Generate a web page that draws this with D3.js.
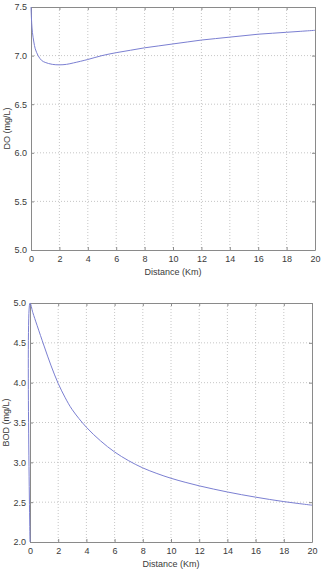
<!DOCTYPE html>
<html lang="en">
<head>
	<meta charset="UTF-8">
	<script src="https://cdn.jsdelivr.net/npm/d3@7"></script>
	<title></title>
	<style>
		body { margin: 0; background: #fff; }
		text { font-family: "Liberation Sans", Arial, sans-serif; fill: #3a3a3a; }
	</style>
</head>
<body>
  <script>
    // DO curve (mg/L) against distance (Km)
    var doDist = [0, 0.05, 0.1, 0.2, 0.3, 0.5, 0.75, 1, 1.5, 2, 2.5, 3, 4, 5, 6, 7, 8, 9, 10, 11, 12, 13, 14, 15, 16, 17, 18, 19, 20];
    var doVal = [7.5, 7.33, 7.24, 7.14, 7.07, 7.0, 6.95, 6.93, 6.91, 6.905, 6.91, 6.925, 6.96, 7.0, 7.03, 7.055, 7.08, 7.10, 7.12, 7.14, 7.16, 7.175, 7.19, 7.205, 7.22, 7.23, 7.24, 7.25, 7.26];

    // BOD curve (mg/L) against distance (Km)
    var bodDist = [0, 0, 0.2, 0.5, 1, 1.5, 2, 2.5, 3, 4, 5, 6, 7, 8, 9, 10, 11, 12, 13, 14, 15, 16, 17, 18, 19, 20];
    var bodVal = [2.0, 5.0, 4.88, 4.72, 4.46, 4.21, 3.99, 3.81, 3.66, 3.44, 3.27, 3.13, 3.02, 2.93, 2.86, 2.80, 2.75, 2.705, 2.665, 2.628, 2.594, 2.563, 2.534, 2.507, 2.484, 2.462];

    var xTicks = [0, 2, 4, 6, 8, 10, 12, 14, 16, 18, 20];
    var doTicks = [5.0, 5.5, 6.0, 6.5, 7.0, 7.5];
    var bodTicks = [2.0, 2.5, 3.0, 3.5, 4.0, 4.5, 5.0];

    var width = 321, height = 570;

    var svg = d3.select('body').append('svg')
      .attr('width', width)
      .attr('height', height);

    function panel(box, xs, ys, yDomain, yTicks, yLabel) {
      var x = d3.scaleLinear().domain([0, 20]).range([box.left, box.right]);
      var y = d3.scaleLinear().domain(yDomain).range([box.bottom, box.top]);
      var g = svg.append('g');

      // dotted grid
      g.selectAll('.gx').data(xTicks.slice(1, -1)).enter().append('line')
        .attr('x1', function(d) { return x(d); }).attr('x2', function(d) { return x(d); })
        .attr('y1', box.top).attr('y2', box.bottom)
        .attr('stroke', '#b8b8b8').attr('stroke-width', 0.8)
        .attr('stroke-dasharray', '1,2');
      g.selectAll('.gy').data(yTicks.slice(1, -1)).enter().append('line')
        .attr('y1', function(d) { return y(d); }).attr('y2', function(d) { return y(d); })
        .attr('x1', box.left).attr('x2', box.right)
        .attr('stroke', '#b8b8b8').attr('stroke-width', 0.8)
        .attr('stroke-dasharray', '1,2');

      // axes, ticks pointing inward, box all round
      g.append('g')
        .attr('transform', 'translate(0,' + box.bottom + ')')
        .call(d3.axisBottom(x).tickValues(xTicks).tickSizeInner(-3).tickSizeOuter(0).tickPadding(6).tickFormat(d3.format('d')));
      g.append('g')
        .attr('transform', 'translate(' + box.left + ',0)')
        .call(d3.axisLeft(y).tickValues(yTicks).tickSizeInner(-3).tickSizeOuter(0).tickPadding(4).tickFormat(d3.format('.1f')));
      g.append('g')
        .attr('transform', 'translate(0,' + box.top + ')')
        .call(d3.axisTop(x).tickValues(xTicks).tickSizeInner(-3).tickSizeOuter(0).tickFormat(''));
      g.append('g')
        .attr('transform', 'translate(' + box.right + ',0)')
        .call(d3.axisRight(y).tickValues(yTicks).tickSizeInner(-3).tickSizeOuter(0).tickFormat(''));

      g.selectAll('.domain, .tick line').attr('stroke', '#8a8a8a');
      g.selectAll('.tick text')
        .style('font-family', '"Liberation Sans", Arial, sans-serif')
        .style('font-size', '9px')
        .attr('fill', '#3a3a3a');

      g.append('path')
        .datum(ys)
        .attr('d', d3.line()
          .x(function(d, i) { return x(xs[i]); })
          .y(function(d) { return y(d); })
          .curve(d3.curveCatmullRom.alpha(0.5)))
        .attr('fill', 'none')
        .attr('stroke', '#7b7fd2')
        .attr('stroke-width', 1);

      g.append('text')
        .attr('x', (box.left + box.right) / 2)
        .attr('y', box.bottom + 25)
        .attr('text-anchor', 'middle')
        .style('font-size', '9px')
        .text('Distance (Km)');
      g.append('text')
        .attr('transform', 'translate(' + box.yLabelX + ',' + (box.top + box.bottom) / 2 + ') rotate(-90)')
        .attr('text-anchor', 'middle')
        .style('font-size', '9px')
        .text(yLabel);
    }

    panel({left: 31, right: 315, top: 7, bottom: 250, yLabelX: 10}, doDist, doVal, [5, 7.5], doTicks, 'DO (mg/L)');
    panel({left: 30, right: 312, top: 303, bottom: 542, yLabelX: 9}, bodDist, bodVal, [2, 5], bodTicks, 'BOD (mg/L)');
  </script>
</body>
</html>
